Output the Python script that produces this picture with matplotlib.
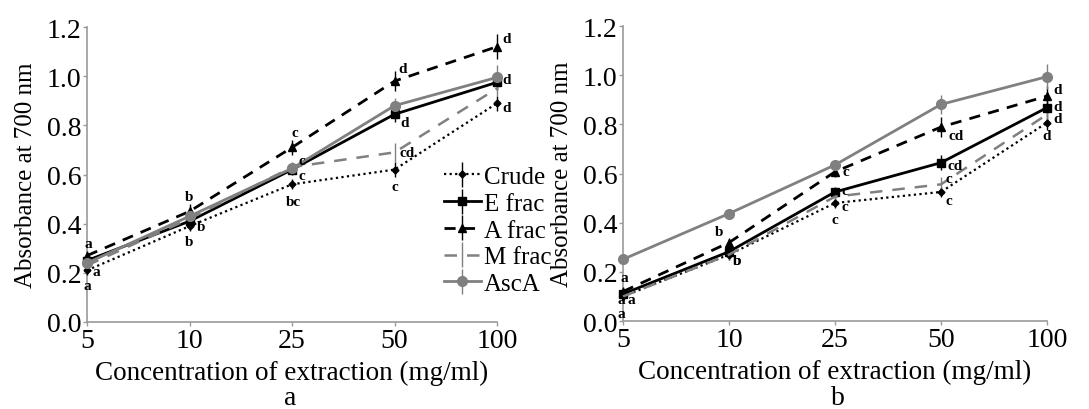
import matplotlib.pyplot as plt

plt.rcParams['font.family'] = ['Liberation Serif', 'DejaVu Serif']

# concentrations on a categorical x axis
conc = ['5', '10', '25', '50', '100']
series = ['Crude', 'E frac', 'A frac', 'M frac', 'AscA']

# panel a: absorbance at 700 nm
a_crude = [0.21, 0.39, 0.56, 0.62, 0.89]
a_efrac = [0.25, 0.41, 0.62, 0.845, 0.975]
a_afrac = [0.27, 0.45, 0.71, 0.98, 1.12]
a_mfrac = [0.23, 0.42, 0.63, 0.69, 0.95]
a_asca = [0.24, 0.43, 0.625, 0.88, 0.995]

a_err_crude = [0.02, 0.02, 0.02, 0.03, 0.03]
a_err_efrac = [0.02, 0.02, 0.02, 0.03, 0.03]
a_err_afrac = [0.02, 0.03, 0.03, 0.04, 0.05]
a_err_mfrac = [0.02, 0.02, 0.02, 0.04, 0.03]
a_err_asca = [0.02, 0.02, 0.02, 0.03, 0.05]

# panel b
b_crude = [0.10, 0.27, 0.48, 0.525, 0.807]
b_efrac = [0.11, 0.282, 0.525, 0.644, 0.868]
b_afrac = [0.12, 0.319, 0.607, 0.789, 0.915]
b_mfrac = [0.10, 0.27, 0.506, 0.556, 0.84]
b_asca = [0.251, 0.437, 0.635, 0.881, 0.994]

b_err_crude = [0.02, 0.02, 0.02, 0.02, 0.03]
b_err_efrac = [0.02, 0.02, 0.02, 0.03, 0.03]
b_err_afrac = [0.02, 0.02, 0.02, 0.04, 0.04]
b_err_mfrac = [0.02, 0.02, 0.02, 0.03, 0.03]
b_err_asca = [0.01, 0.01, 0.02, 0.04, 0.05]

# significance letters ('' = none drawn)
a_let_crude = ['a', 'b', 'bc', 'c', 'd']
a_let_efrac = ['', 'b', 'c', 'd', 'd']
a_let_afrac = ['a', 'b', 'c', 'd', 'd']
a_let_mfrac = ['a', '', 'c', 'cd', '']
a_let_asca = ['', '', '', '', '']

b_let_crude = ['a', 'b', 'c', 'c', 'd']
b_let_efrac = ['a', 'b', 'c', 'cd', 'd']
b_let_afrac = ['a', 'b', 'c', 'cd', 'd']
b_let_mfrac = ['a', '', 'c', 'c', 'd']
b_let_asca = ['', '', '', '', '']

GRAY = '#808080'
SPINE = '#9a9a9a'

styles = {
    'Crude': dict(color='black', ls=(0, (1, 1.5)), lw=1.6, marker='D', ms=3.5),
    'E frac': dict(color='black', ls='-', lw=2.0, marker='s', ms=6),
    'A frac': dict(color='black', ls=(0, (4, 3)), lw=2.0, marker='^', ms=6),
    'M frac': dict(color=GRAY, ls=(0, (5, 4)), lw=1.8, marker=None, ms=0),
    'AscA': dict(color=GRAY, ls='-', lw=2.0, marker='o', ms=7),
}

# letter offsets in points (dx, dy) per series, per point
a_offsets = {
    'Crude': [(0, -11), (0, -11), (1, -12), (0, -12), (7, -3)],
    'E frac': [(0, 0), (8, -4), (7, -4), (7, -6), (7, 2)],
    'A frac': [(1, 9), (0, 11), (2, 11), (6, 9), (7, 6)],
    'M frac': [(7, -4), (0, 0), (7, 5), (9, 0), (0, 0)],
    'AscA': [(0, 0)] * 5,
}
b_offsets = {
    'Crude': [(-1, -12), (6, -4), (0, -12), (6, -6), (0, -9)],
    'E frac': [(-1, -4), (6, -6), (7, 1), (10, -2), (8, 1)],
    'A frac': [(1, 10), (-7, 8), (8, 0), (11, -6), (8, 5)],
    'M frac': [(6, -2), (0, 0), (7, -7), (6, 4), (8, -3)],
    'AscA': [(0, 0)] * 5,
}


def draw_panel(ax, vals, errs, lets, offs):
    x = list(range(len(conc)))
    for name in series:
        st = styles[name]
        ax.errorbar(x, vals[name], yerr=errs[name], color=st['color'],
                    ls=st['ls'], lw=st['lw'], marker=st['marker'],
                    ms=st['ms'], elinewidth=1.0, capsize=0,
                    label=name, clip_on=False, zorder=3)
        for i, t in enumerate(lets[name]):
            if not t:
                continue
            dx, dy = offs[name][i]
            ax.annotate(t, (x[i], vals[name][i]), xytext=(dx, dy),
                        textcoords='offset points', ha='center',
                        va='center', fontsize=11, fontweight='bold',
                        annotation_clip=False, zorder=4)
    ax.set_xlim(0, 4)
    ax.set_ylim(0, 1.2)
    ax.set_xticks(x)
    ax.set_xticklabels(conc)
    ax.set_yticks([0.0, 0.2, 0.4, 0.6, 0.8, 1.0, 1.2])
    ax.set_yticklabels(['0.0', '0.2', '0.4', '0.6', '0.8', '1.0', '1.2'])
    ax.tick_params(labelsize=20, colors=SPINE, labelcolor='black',
                   length=3, width=1, pad=1)
    for s in ['top', 'right']:
        ax.spines[s].set_visible(False)
    for s in ['left', 'bottom']:
        ax.spines[s].set_color(SPINE)
        ax.spines[s].set_linewidth(1.2)
    ax.set_ylabel('Absorbance at 700 nm', fontsize=18, labelpad=7)
    ax.set_xlabel('Concentration of extraction (mg/ml)', fontsize=19.5,
                  labelpad=5)


fig = plt.figure(figsize=(10.89, 4.10), dpi=100)
ax_a = fig.add_axes([0.0799, 0.2122, 0.3765, 0.7195])
ax_b = fig.add_axes([0.5721, 0.2146, 0.3893, 0.7195])

vals_a = dict(zip(series, [a_crude, a_efrac, a_afrac, a_mfrac, a_asca]))
errs_a = dict(zip(series, [a_err_crude, a_err_efrac, a_err_afrac,
                           a_err_mfrac, a_err_asca]))
lets_a = dict(zip(series, [a_let_crude, a_let_efrac, a_let_afrac,
                           a_let_mfrac, a_let_asca]))
vals_b = dict(zip(series, [b_crude, b_efrac, b_afrac, b_mfrac, b_asca]))
errs_b = dict(zip(series, [b_err_crude, b_err_efrac, b_err_afrac,
                           b_err_mfrac, b_err_asca]))
lets_b = dict(zip(series, [b_let_crude, b_let_efrac, b_let_afrac,
                           b_let_mfrac, b_let_asca]))

draw_panel(ax_a, vals_a, errs_a, lets_a, a_offsets)
draw_panel(ax_b, vals_b, errs_b, lets_b, b_offsets)

# panel letters under the x labels
fig.text(290 / 1089, 1 - 399 / 410, 'a', ha='center', va='center', fontsize=20)
fig.text(838 / 1089, 1 - 399 / 410, 'b', ha='center', va='center', fontsize=20)

handles, labels = ax_a.get_legend_handles_labels()
ax_a.legend(handles, labels, loc='upper left', bbox_to_anchor=(0.87, 0.53),
            frameon=False, fontsize=18, handlelength=1.5, handletextpad=0.1,
            labelspacing=0.17, borderpad=0, borderaxespad=0)

fig.savefig('out.png', dpi=100)
